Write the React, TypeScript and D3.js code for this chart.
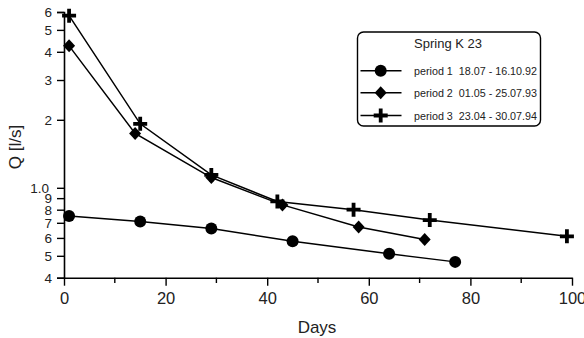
import React, { useEffect, useRef } from 'react';
import * as d3 from 'd3';

// discharge of Spring K 23 during three recession periods
const days1 = [1, 15, 29, 45, 64, 77];
const q1 = [0.75, 0.71, 0.66, 0.58, 0.51, 0.47];
const days2 = [1, 14, 29, 43, 58, 71];
const q2 = [4.25, 1.74, 1.11, 0.84, 0.67, 0.59];
const days3 = [1, 15, 29, 42, 57, 72, 99];
const q3 = [5.78, 1.92, 1.14, 0.87, 0.8, 0.72, 0.61];

const legendTitle = 'Spring K 23';
const legendLabels = [
    'period 1  18.07 - 16.10.92',
    'period 2  01.05 - 25.07.93',
    'period 3  23.04 - 30.07.94',
];
const yTicks = [0.4, 0.5, 0.6, 0.7, 0.8, 0.9, 1, 2, 3, 4, 5, 6];
const xTicks = [0, 20, 40, 60, 80, 100];
const xMinorTicks = [10, 30, 50, 70, 90];

const FONT = 'Liberation Sans, Arial, Helvetica, sans-serif';

export default function App() {
    const ref = useRef<SVGSVGElement>(null);

    useEffect(() => {
        const svg = d3.select(ref.current);
        svg.selectAll('*').remove();

        const x = d3.scaleLinear().domain([0, 100]).range([64, 572]);
        const y = d3.scaleLog().domain([0.4, 6]).range([277.7, 12]);

        // y axis
        const yAxis = svg
            .append('g')
            .attr('transform', 'translate(64,0)')
            .call(
                d3
                    .axisLeft(y)
                    .tickValues(yTicks)
                    .tickSize(7)
                    .tickPadding(5)
                    .tickFormat((d: any) => (d === 1 ? '1.0' : d < 1 ? String(Math.round(d * 10)) : String(d)))
            );
        yAxis.select('.domain').attr('stroke-width', 1.6);
        yAxis.selectAll('.tick line').attr('stroke-width', 1.4);
        yAxis
            .selectAll('.tick text')
            .attr('font-family', FONT)
            .attr('font-size', 13.5)
            .attr('fill', '#222')
            .attr('dx', (d: any) => (d === 1 ? -3 : 0));

        // x axis
        const xAxis = svg
            .append('g')
            .attr('transform', 'translate(0,277.7)')
            .call(d3.axisBottom(x).tickValues(xTicks).tickSize(8).tickSizeOuter(0).tickPadding(7));
        xAxis.select('.domain').attr('stroke-width', 1.6);
        xAxis.selectAll('.tick line').attr('stroke-width', 1.4);
        xAxis.selectAll('.tick text').attr('font-family', FONT).attr('font-size', 16.5).attr('fill', '#222');
        svg.append('g')
            .selectAll('line')
            .data(xMinorTicks)
            .enter()
            .append('line')
            .attr('x1', (d) => x(d))
            .attr('x2', (d) => x(d))
            .attr('y1', 277.7)
            .attr('y2', 283)
            .attr('stroke', '#000')
            .attr('stroke-width', 1.4);

        // axis titles
        svg.append('text')
            .attr('x', 317)
            .attr('y', 333)
            .attr('text-anchor', 'middle')
            .attr('font-family', FONT)
            .attr('font-size', 17)
            .attr('fill', '#222')
            .text('Days');
        svg.append('text')
            .attr('transform', 'translate(21,147) rotate(-90)')
            .attr('text-anchor', 'middle')
            .attr('font-family', FONT)
            .attr('font-size', 17)
            .attr('fill', '#222')
            .text('Q [l/s]');

        const line = d3
            .line<[number, number]>()
            .x((d) => x(d[0]))
            .y((d) => y(d[1]));

        const series = [
            { days: days1, q: q1, marker: 'circle' },
            { days: days2, q: q2, marker: 'diamond' },
            { days: days3, q: q3, marker: 'plus' },
        ];

        function drawMarker(g: any, type: string, cx: number, cy: number) {
            if (type === 'circle') {
                g.append('circle').attr('cx', cx).attr('cy', cy).attr('r', 6).attr('fill', '#000');
            } else if (type === 'diamond') {
                g.append('path')
                    .attr('d', `M${cx},${cy - 6.5}L${cx + 6},${cy}L${cx},${cy + 6.5}L${cx - 6},${cy}Z`)
                    .attr('fill', '#000');
            } else {
                const a = 7, t = 1.9;
                g.append('path')
                    .attr(
                        'd',
                        `M${cx - t},${cy - a}H${cx + t}V${cy - t}H${cx + a}V${cy + t}H${cx + t}V${cy + a}H${cx - t}V${cy + t}H${cx - a}V${cy - t}H${cx - t}Z`
                    )
                    .attr('fill', '#000');
            }
        }

        series.forEach((s) => {
            const pts = s.days.map((d, i) => [d, s.q[i]] as [number, number]);
            svg.append('path')
                .attr('d', line(pts))
                .attr('fill', 'none')
                .attr('stroke', '#000')
                .attr('stroke-width', 1.5);
            const g = svg.append('g');
            pts.forEach((p) => drawMarker(g, s.marker, x(p[0]), y(p[1])));
        });

        // legend
        const lg = svg.append('g');
        lg.append('rect')
            .attr('x', 357.5)
            .attr('y', 32)
            .attr('width', 183)
            .attr('height', 94)
            .attr('rx', 6)
            .attr('fill', '#fff')
            .attr('stroke', '#000')
            .attr('stroke-width', 1.4);
        lg.append('text')
            .attr('x', 448)
            .attr('y', 47.5)
            .attr('text-anchor', 'middle')
            .attr('font-family', FONT)
            .attr('font-size', 13)
            .attr('fill', '#222')
            .text(legendTitle);
        const rowsY = [70.7, 92.7, 115.5];
        series.forEach((s, i) => {
            const ry = rowsY[i];
            lg.append('line')
                .attr('x1', 360.5)
                .attr('x2', 401.5)
                .attr('y1', ry)
                .attr('y2', ry)
                .attr('stroke', '#000')
                .attr('stroke-width', 1.5);
            drawMarker(lg, s.marker, 380.7, ry);
            lg.append('text')
                .attr('x', 414)
                .attr('y', ry + 4)
                .attr('font-family', 'Liberation Sans Narrow, Arial Narrow, ' + FONT)
                .attr('font-size', 11.5)
                .attr('fill', '#222')
                .attr('textLength', 123)
                .attr('lengthAdjust', 'spacingAndGlyphs')
                .style('white-space', 'pre')
                .text(legendLabels[i]);
        });
    }, []);

    return (
        <svg
            ref={ref}
            width={584}
            height={338}
            style={{ position: 'absolute', left: 0, top: 0, background: '#fff' }}
        />
    );
}
